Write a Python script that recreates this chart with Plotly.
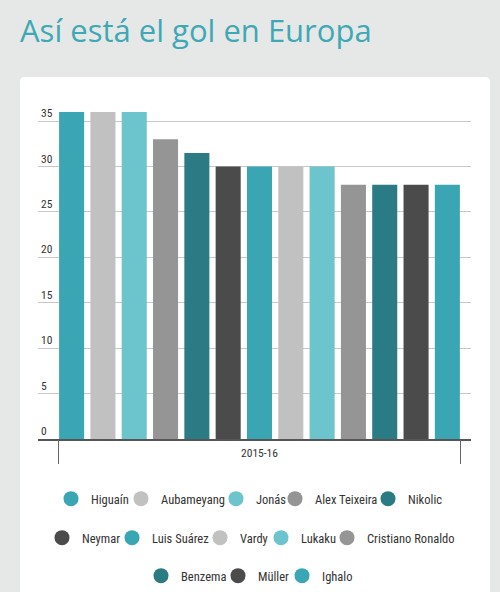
import plotly.graph_objects as go

players = ["Higuaín", "Aubameyang", "Jonás", "Alex Teixeira", "Nikolic",
           "Neymar", "Luis Suárez", "Vardy", "Lukaku", "Cristiano Ronaldo",
           "Benzema", "Müller", "Ighalo"]
goals = [36, 36, 36, 33, 31.5, 30, 30, 30, 30, 28, 28, 28, 28]
season = "2015-16"
palette = ["#3aa6b4", "#c1c1c1", "#6cc4cd", "#959595", "#2a7b84", "#4b4b4b"]

# legend layout (pixel centres of the legend circles, and row y)
legend_cx = [71, 141, 236, 295, 388, 62, 132, 220, 281, 347, 161, 238, 302]
legend_cy = [499] * 5 + [538] * 5 + [576] * 3

TEXT_FONT = "Roboto Condensed, DejaVu Sans Condensed, sans-serif"

W, H = 500, 592
L, R, T, B = 38, 29, 103, 153
pw, ph = W - L - R, H - T - B

fig = go.Figure()

for i, (p, g) in enumerate(zip(players, goals)):
    fig.add_trace(go.Bar(
        x=[season], y=[g], name=p,
        marker=dict(color=palette[i % len(palette)], line=dict(width=0)),
        showlegend=False, xaxis="x", yaxis="y",
    ))

layout_legends = {}
for i, p in enumerate(players):
    key = "legend" if i == 0 else f"legend{i+1}"
    fig.add_trace(go.Scatter(
        x=[None], y=[None], mode="markers", name=p,
        marker=dict(color=palette[i % len(palette)], size=15, symbol="circle"),
        legend=key, xaxis="x2", yaxis="y", hoverinfo="skip",
    ))
    layout_legends[key] = dict(
        orientation="h", xref="container", yref="container",
        x=(legend_cx[i] - 20) / W, xanchor="left",
        y=1 - legend_cy[i] / H, yanchor="middle",
        font=dict(family=TEXT_FONT, size=12.5, color="#333333"),
        bgcolor="rgba(0,0,0,0)", itemwidth=30,
    )

def px_to_paper_x(px):
    return (px - L) / pw

def px_to_paper_y(py):
    return (H - B - py) / ph

x0, x1 = px_to_paper_x(20), px_to_paper_x(490)
y1, y0 = px_to_paper_y(77), px_to_paper_y(620)
rx, ry = 5 / pw, 5 / ph
path = (f"M {x0+rx},{y1} L {x1-rx},{y1} Q {x1},{y1} {x1},{y1-ry} "
        f"L {x1},{y0} L {x0},{y0} L {x0},{y1-ry} Q {x0},{y1} {x0+rx},{y1} Z")
fig.add_shape(type="path", path=path, xref="paper", yref="paper",
              fillcolor="white", line=dict(width=0), layer="below")

fig.update_layout(
    width=W, height=H,
    margin=dict(l=L, r=R, t=T, b=B),
    paper_bgcolor="#e6e8e8",
    plot_bgcolor="rgba(0,0,0,0)",
    title=dict(text="Así está el gol en Europa", x=20 / W, xanchor="left",
               xref="container", y=1 - 31 / H, yanchor="middle", yref="container",
               font=dict(family="Open Sans, Lato, sans-serif", size=31, color="#3ea8b5")),
    barmode="group", bargap=0, bargroupgap=0.2,
    xaxis=dict(type="category", range=[-0.5441, 0.5196], showgrid=False,
               showline=True, linecolor="#555555", linewidth=2, ticks="",
               tickfont=dict(family=TEXT_FONT, size=11.5, color="#333333"),
               ticklabelstandoff=2, zeroline=False, fixedrange=True),
    xaxis2=dict(overlaying="x", anchor="y", side="bottom", type="linear",
                range=[-0.5522, 0.5274], tickvals=[-0.5, 0.5], ticks="outside",
                ticklen=24, tickcolor="#666666", tickwidth=1, showticklabels=False,
                showgrid=False, showline=False, zeroline=False),
    yaxis=dict(range=[0, 37], tickvals=[0, 5, 10, 15, 20, 25, 30, 35],
               showgrid=True, gridcolor="#c8c8c8", gridwidth=1, zeroline=False,
               ticks="", ticklabelposition="inside top",
               ticklabelstandoff=0, ticklabeloverflow="allow",
               tickfont=dict(family=TEXT_FONT, size=11.5, color="#333333")),
    **layout_legends,
)

fig.write_html("out.html", config={"displayModeBar": False},
               post_script="document.body.style.margin='0';document.body.style.overflow='hidden';")
